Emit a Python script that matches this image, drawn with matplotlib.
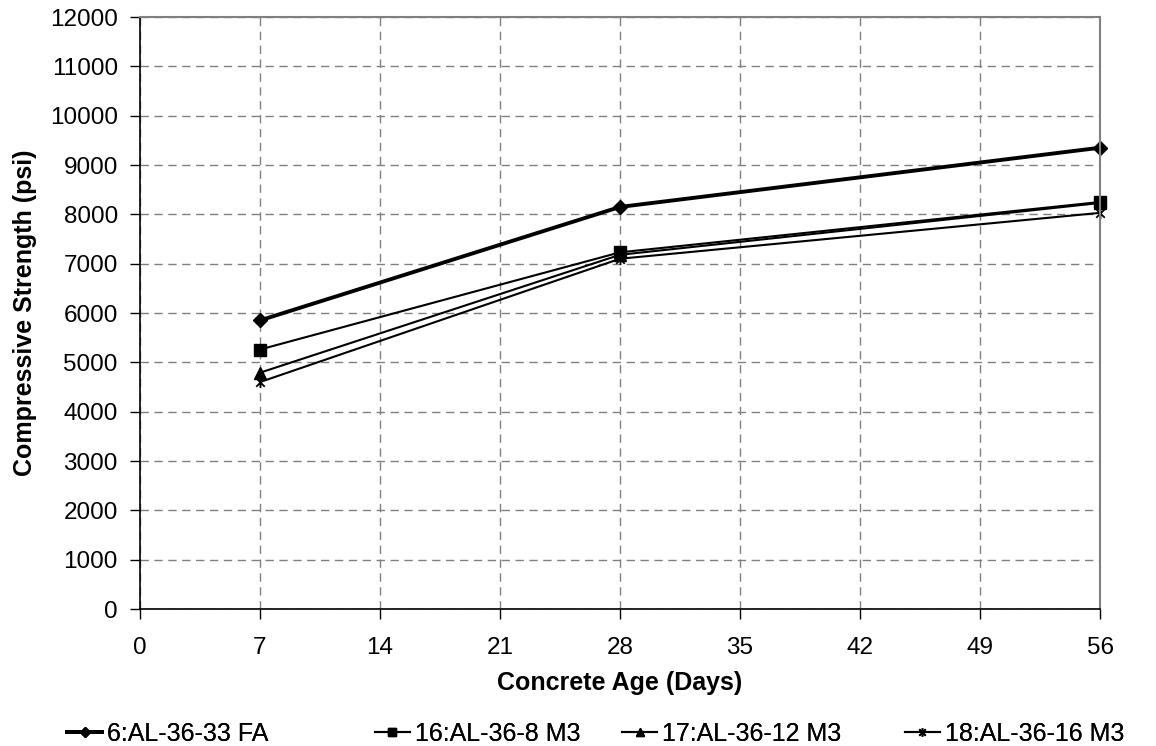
import matplotlib
matplotlib.use("Agg")
import matplotlib.pyplot as plt
from matplotlib.path import Path

plt.rcParams['font.family'] = ['Liberation Sans', 'DejaVu Sans']

# concrete age (days)
days = [7, 28, 56]

# compressive strength (psi)
fa_33 = [5850, 8150, 9350]
m3_8 = [5260, 7230, 8250]
m3_12 = [4790, 7180, 8230]
m3_16 = [4600, 7100, 8030]

labels = ["6:AL-36-33 FA", "16:AL-36-8 M3", "17:AL-36-12 M3", "18:AL-36-16 M3"]
x_ticks = list(range(0, 57, 7))
y_ticks = list(range(0, 12001, 1000))

# excel style star: an x with a vertical bar through it
star = Path([(-1, -1), (1, 1), (-1, 1), (1, -1), (0, -1.3), (0, 1.3)],
            [Path.MOVETO, Path.LINETO, Path.MOVETO, Path.LINETO, Path.MOVETO, Path.LINETO])

W, H = 1156, 746
fig = plt.figure(figsize=(W / 100, H / 100), dpi=100)
ax = fig.add_axes([140 / W, 1 - 609 / H, 960 / W, 592 / H])

l1, = ax.plot(days, fa_33, color="black", lw=2.8, marker="D", ms=7, label=labels[0])
l2, = ax.plot(days, m3_8, color="black", lw=1.5, marker="s", ms=8, label=labels[1])
l3, = ax.plot(days, m3_12, color="black", lw=1.5, marker="^", ms=8, label=labels[2])
l4, = ax.plot(days, m3_16, color="black", lw=1.5, marker=star, ms=8, mew=1.3, label=labels[3])

ax.set_xlim(0, 56)
ax.set_ylim(0, 12000)
ax.set_xticks(x_ticks)
ax.set_yticks(y_ticks)
ax.grid(True, color="#808080", ls=(0, (6, 4)), lw=1)
ax.set_axisbelow(True)
for ln in (l1, l2, l3, l4):
    ln.set_clip_on(False)

for s in ["top", "right"]:
    ax.spines[s].set_color("#808080")
    ax.spines[s].set_linewidth(1.5)
for s in ["left", "bottom"]:
    ax.spines[s].set_color("black")
    ax.spines[s].set_linewidth(1.2)

ax.tick_params(direction="out", length=7, width=1, labelsize=17.5)
ax.tick_params(axis="x", pad=13.5)
ax.tick_params(axis="y", pad=9)

ax.set_xlabel("Concrete Age (Days)", fontsize=18, fontweight="bold", labelpad=8)
ax.set_ylabel("Compressive Strength (psi)", fontsize=18, fontweight="bold", labelpad=9)

# legend entries spread along the bottom like the excel layout
leg_x = [67, 375, 622, 905]
for h, lab, x in zip((l1, l2, l3, l4), labels, leg_x):
    lg = fig.legend(handles=[h], labels=[lab], loc="center left",
                    bbox_to_anchor=(x / W, 1 - 734 / H), frameon=False, fontsize=18,
                    handlelength=1.4, handletextpad=0.2, borderpad=0, borderaxespad=0,
                    markerscale=0.75)
    fig.add_artist(lg)

fig.savefig("out.png", dpi=100)
